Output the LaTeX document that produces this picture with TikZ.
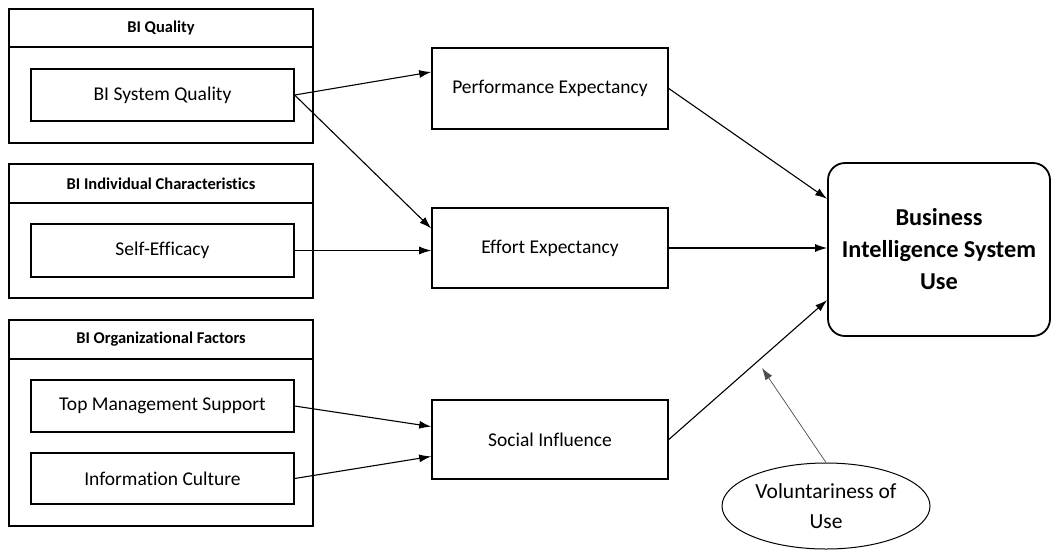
\documentclass[tikz,border=0pt]{standalone}
\usepackage{fontspec}
\setmainfont{Carlito}[Ligatures=NoCommon]
\usetikzlibrary{arrows.meta,shapes.geometric,calc}

\tikzset{
  grphead/.style={draw, line width=2.2pt, minimum width=304pt, inner sep=0pt,
    font=\bfseries\fontsize{16.5}{19}\selectfont},
  grpbody/.style={draw, line width=2.2pt, minimum width=304pt, inner sep=0pt},
  factor/.style={draw, line width=1.3pt, minimum width=263pt, inner sep=0pt,
    font=\fontsize{19.5}{22}\selectfont},
  construct/.style={draw, line width=1.6pt, minimum width=236pt, inner sep=0pt,
    font=\fontsize{19.5}{22}\selectfont},
  outcome/.style={draw, line width=1.8pt, rounded corners=17pt, minimum width=222pt,
    minimum height=173pt, inner sep=0pt, align=center,
    font=\bfseries\fontsize{24.3}{32}\selectfont},
  moderator/.style={draw, ellipse, line width=1pt, minimum width=208pt,
    minimum height=86pt, inner sep=0pt, align=center,
    font=\fontsize{21.5}{30}\selectfont},
  link/.style={-{Latex[length=12pt,width=8pt]}, line width=1.1pt},
  modlink/.style={-{Latex[length=12pt,width=8pt]}, line width=0.7pt, draw=black!70}
}

\begin{document}
\begin{tikzpicture}[x=1pt,y=-1pt]
\useasboundingbox (0,0) rectangle (1052,550);

% left-hand groups of antecedents
\node[grphead, minimum height=38pt] (qhead) at (161,28) {BI Quality};
\node[grpbody, minimum height=96pt] (qbody) at (161,95) {};
\node[factor, minimum height=52pt] (bisq) at (162.5,95) {BI System Quality};

\node[grphead, minimum height=39pt] (ihead) at (161,183.5) {BI Individual Characteristics};
\node[grpbody, minimum height=95pt] (ibody) at (161,250.5) {};
\node[factor, minimum height=53pt] (se) at (162.5,250.5) {Self-Efficacy};

\node[grphead, minimum height=39pt] (ohead) at (161,339.5) {BI Organizational Factors};
\node[grpbody, minimum height=167pt] (obody) at (161,442.5) {};
\node[factor, minimum height=52pt] (tms) at (162.5,406) {Top Management Support};
\node[factor, minimum height=51pt] (ic) at (162.5,478.5) {Information Culture};

% UTAUT constructs
\node[construct, minimum height=81pt] (pe) at (550,88.5) {Performance Expectancy};
\node[construct, minimum height=80pt] (ee) at (550,248) {Effort Expectancy};
\node[construct, minimum height=79pt] (si) at (550,439.5) {Social Influence};

% outcome and moderator
\node[outcome] (bisu) at (939,249.5) {Business\\Intelligence System\\Use};
\node[moderator] (vol) at (826,506) {Voluntariness of\\Use};
\coordinate (vtip) at (762,368);

% paths
\draw[link] (bisq.east) -- ($(pe.north west)!0.3!(pe.south west)$);
\draw[link] (bisq.east) -- ($(ee.north west)!0.26!(ee.south west)$);
\draw[link] (se.east) -- (se.east -| ee.west);
\draw[link] (tms.east) -- ($(si.north west)!0.34!(si.south west)$);
\draw[link] (ic.east) -- ($(si.north west)!0.71!(si.south west)$);

\draw[link] (pe.east) -- ($(bisu.north west)!0.21!(bisu.south west)$);
\draw[link] (ee.east) -- (ee.east -| bisu.west);
\draw[link] (si.east) -- ($(bisu.north west)!0.79!(bisu.south west)$);

\draw[modlink] (vol.north) -- (vtip);
\end{tikzpicture}
\end{document}
